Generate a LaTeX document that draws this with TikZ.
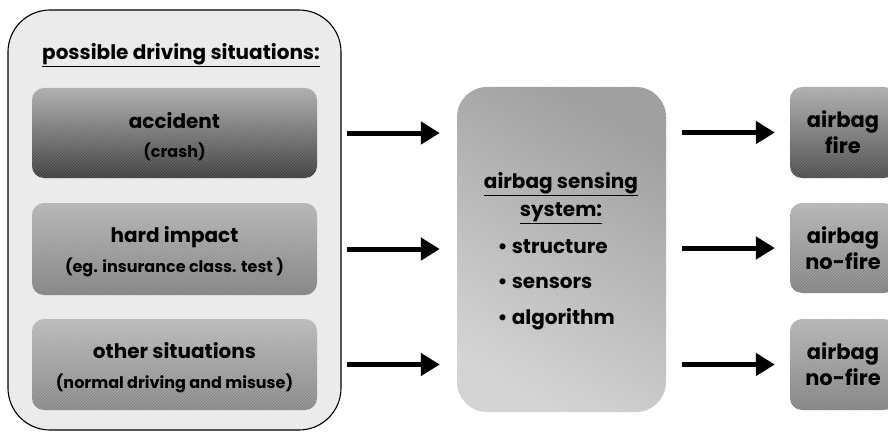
\documentclass[tikz,border=0pt]{standalone}
\usepackage{fontspec}
\setmainfont{Poppins}
\usetikzlibrary{arrows.meta,calc}

\tikzset{
  x=1pt, y=1pt,
  hatchne/.style={path picture={
    \foreach \k in {-330,-327,...,330}
      \draw[white, opacity=.22, line width=.45pt]
        ($(path picture bounding box.center)+(\k-260,-260)$) -- ++(520,520);}},
  hatchnw/.style={path picture={
    \foreach \k in {-330,-327,...,330}
      \draw[white, opacity=.22, line width=.45pt]
        ($(path picture bounding box.center)+(\k+260,-260)$) -- ++(-520,520);}},
  sitbox/.style={rounded corners=12pt, minimum width=285pt, inner sep=0pt,
    hatchne, shading angle=45},
  sittext/.style={align=center, inner sep=0pt,
    font=\bfseries\fontsize{20}{23}\selectfont},
  resbox/.style={rounded corners=12pt, minimum width=106pt, inner sep=0pt,
    align=center, font=\bfseries\fontsize{21}{26}\selectfont, hatchne,
    shading angle=45},
  label/.style={font=\bfseries\fontsize{20}{23}\selectfont},
  flow/.style={line width=5pt, -{Triangle[length=19pt,width=22pt]}},
}
\newcommand{\sub}[1]{{\fontsize{16}{19}\selectfont #1}}

\begin{document}
\begin{tikzpicture}
  \clip (0,0) rectangle (888,432);
  \useasboundingbox (0,0) rectangle (888,432);

  % group of driving situations
  \draw[line width=1.1pt, fill=black!8, rounded corners=42pt]
    (8,2) rectangle (341,422);
  \coordinate (outer east) at (341,200);
  \node[label] (title) at (181,377)
    {\underline{possible driving situations:}};

  \node[sitbox, minimum height=90pt, top color=black!33, bottom color=black!78]
    (acc) at (174.5,299) {};
  \node[sittext] (acctext) at ($(acc.center)+(0,-4)$) {accident\\[6pt]\sub{(crash)}};
  \node[sitbox, minimum height=92pt, top color=black!30, bottom color=black!50]
    (hard) at (174.5,183) {};
  \node[sittext] (hardtext) at ($(hard.center)+(0,-3)$)
    {hard impact\\[7pt]\sub{(eg. insurance class. test )}};
  \node[sitbox, minimum height=91pt, top color=black!28, bottom color=black!48]
    (other) at (174.5,67.5) {};
  \node[sittext] (othertext) at ($(other.center)+(0,-3)$)
    {other situations\\[7pt]\sub{(normal driving and misuse)}};

  % sensing system
  \node[rounded corners=30pt, minimum width=209pt, minimum height=325pt,
    inner sep=0pt, top color=black!40, bottom color=black!18, shading angle=-30,
    hatchnw] (sys) at (561.5,182.5) {};
  \node[label, align=center] (systitle)
    at (561,234) {\underline{airbag sensing}\\[5pt]\underline{system:}};
  \node[label, anchor=base west] (b1) at (494,179) {\textbullet\ structure};
  \node[label, anchor=base west] (b2) at (494,144) {\textbullet\ sensors};
  \node[label, anchor=base west] (b3) at (494,108) {\textbullet\ algorithm};

  % results
  \node[resbox, minimum height=91pt, top color=black!33, bottom color=black!72]
    (r1) at (843,299.5) {airbag\\fire};
  \node[resbox, minimum height=90pt, top color=black!30, bottom color=black!50]
    (r2) at (843,184) {airbag\\no-fire};
  \node[resbox, minimum height=91pt, top color=black!30, bottom color=black!50]
    (r3) at (843,67.5) {airbag\\no-fire};

  % flow arrows
  \draw[flow, shorten <=6pt, shorten >=17pt] (acc.east -| outer east) -- (acc.east -| sys.west);
  \draw[flow, shorten <=6pt, shorten >=17pt] (hard.east -| outer east) -- (hard.east -| sys.west);
  \draw[flow, shorten <=6pt, shorten >=17pt] (other.east -| outer east) -- (other.east -| sys.west);
  \draw[flow, shorten <=16pt, shorten >=15pt] (r1.west -| sys.east) -- (r1.west);
  \draw[flow, shorten <=16pt, shorten >=15pt] (r2.west -| sys.east) -- (r2.west);
  \draw[flow, shorten <=16pt, shorten >=15pt] (r3.west -| sys.east) -- (r3.west);
\end{tikzpicture}
\end{document}
